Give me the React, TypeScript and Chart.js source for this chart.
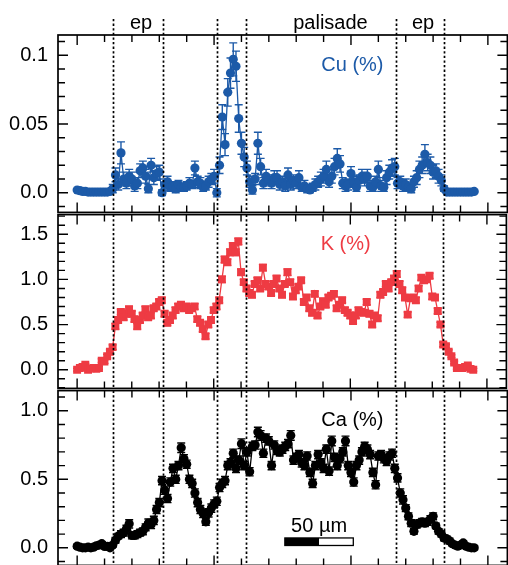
import React, { useEffect, useRef } from 'react';
import { Chart, registerables } from 'chart.js';

Chart.register(...registerables);

const FONT = "'Liberation Sans', Arial, Helvetica, sans-serif";

// scan positions (µm), one sample every 2 µm
const positionsUm: number[] = Array.from({ length: 146 }, (_, i) => i * 2);

// tissue boundaries (µm) drawn as dotted lines
const boundaryUm = [25.9, 62.8, 102.5, 123.5, 232.9, 267.7];
const regionLabels = ['ep', 'palisade', 'ep'];
const regionLabelUm = [46.7, 185, 252.7];

// x axis ticks (µm)
const xMajorTicksUm = [0, 100, 200, 300];
const xMinorStepUm = 20;

// Cu (%)
const cuValues = [
  0.002, 0.0015, 0.001, 0.001, 0.0005, 0.0005, 0.0005, 0.0005, 0.0005, 0.0005, 0.0005, 0.0005, 0.001,
  0.003, 0.013, 0.006, 0.029, 0.010, 0.007, 0.012, 0.010, 0.005, 0.007, 0.016, 0.018, 0.012, 0.003, 0.020, 0.011, 0.014, 0.015, 0.000,
  0.006, 0.008, 0.004, 0.005, 0.003, 0.006, 0.004, 0.004, 0.005, 0.007, 0.006, 0.018, 0.008, 0.007, 0.004, 0.005, 0.008, 0.010, 0.012,
  0.000, 0.020, 0.055, 0.035, 0.073, 0.087, 0.097, 0.092, 0.054, 0.036, 0.026, 0.018, 0.008,
  0.002, 0.010, 0.036, 0.019, 0.007, 0.012, 0.009, 0.007, 0.011, 0.011, 0.006, 0.008, 0.005, 0.013, 0.006, 0.009, 0.007,
  0.011, 0.004, 0.005, 0.003, 0.002, 0.004, 0.006, 0.008, 0.010, 0.012, 0.017, 0.008, 0.012, 0.019, 0.025, 0.021, 0.007, 0.005, 0.006, 0.014,
  0.008, 0.004, 0.009, 0.012, 0.010, 0.012, 0.005, 0.004, 0.008, 0.017, 0.005, 0.004, 0.011, 0.015, 0.018, 0.019, 0.007, 0.008, 0.005, 0.006,
  0.004, 0.003, 0.008, 0.011, 0.017, 0.020, 0.028, 0.022, 0.020, 0.015, 0.016, 0.012, 0.009, 0.003,
  0.0005, 0.0005, 0.0005, 0.0005, 0.0005, 0.0005, 0.0005, 0.0005, 0.0005, 0.0005, 0.001,
];
const cuErrors = [
  0.0008, 0.0008, 0.0008, 0.0008, 0.0008, 0.0008, 0.0008, 0.0008, 0.0008, 0.0008, 0.0008, 0.0008, 0.0008,
  0.003, 0.005, 0.004, 0.008, 0.005, 0.004, 0.005, 0.005, 0.004, 0.004, 0.005, 0.005, 0.005, 0.003, 0.005, 0.005, 0.005, 0.005, 0.002,
  0.004, 0.004, 0.003, 0.003, 0.003, 0.003, 0.003, 0.003, 0.003, 0.004, 0.003, 0.005, 0.004, 0.004, 0.003, 0.003, 0.004, 0.004, 0.005,
  0.003, 0.006, 0.009, 0.008, 0.010, 0.011, 0.012, 0.011, 0.010, 0.008, 0.007, 0.005, 0.004,
  0.003, 0.004, 0.008, 0.006, 0.004, 0.005, 0.004, 0.004, 0.005, 0.005, 0.004, 0.004, 0.004, 0.005, 0.004, 0.004, 0.004,
  0.005, 0.003, 0.004, 0.003, 0.002, 0.003, 0.004, 0.004, 0.005, 0.005, 0.006, 0.004, 0.005, 0.006, 0.007, 0.006, 0.004, 0.004, 0.004, 0.005,
  0.004, 0.003, 0.004, 0.005, 0.005, 0.005, 0.004, 0.003, 0.004, 0.006, 0.004, 0.003, 0.005, 0.005, 0.006, 0.006, 0.004, 0.004, 0.004, 0.004,
  0.003, 0.003, 0.004, 0.005, 0.006, 0.006, 0.007, 0.006, 0.006, 0.005, 0.005, 0.005, 0.004, 0.002,
  0.0008, 0.0008, 0.0008, 0.0008, 0.0008, 0.0008, 0.0008, 0.0008, 0.0008, 0.0008, 0.0008,
];

// K (%)
const kValues = [
  0.00, 0.02, 0.03, 0.055, 0.00, 0.015, 0.02, 0.01, 0.02, 0.10, 0.09, 0.15, 0.20, 0.25,
  0.48, 0.55, 0.64, 0.58, 0.62, 0.67, 0.62, 0.56, 0.48, 0.55, 0.60, 0.67, 0.58, 0.60, 0.68, 0.70, 0.75, 0.77,
  0.62, 0.52, 0.55, 0.60, 0.66, 0.70, 0.72, 0.68, 0.70, 0.66, 0.68, 0.70, 0.56, 0.52, 0.45, 0.37, 0.50, 0.55, 0.66, 0.70, 0.77,
  1.00, 1.22, 1.19, 1.30, 1.37, 1.30, 1.42, 1.08, 0.97, 0.90, 0.85, 0.83, 0.95, 0.99, 0.90,
  1.13, 0.95, 0.92, 0.85, 0.95, 1.01, 0.90, 0.83, 0.95, 1.08, 0.97, 0.81, 0.88, 0.92, 0.99, 0.75, 0.80, 0.68, 0.63, 0.84, 0.60, 0.70, 0.76,
  0.72, 0.80, 0.82, 0.84, 0.68, 0.72, 0.77, 0.66, 0.63, 0.60, 0.54, 0.60, 0.66, 0.64, 0.63, 0.75, 0.62, 0.50, 0.60, 0.57,
  0.83, 0.86, 0.95, 0.90, 0.97, 1.01, 1.06, 0.95, 0.88, 0.80, 0.61, 0.79, 0.80, 0.77, 0.90, 1.02, 0.99, 1.00, 1.04, 0.81,
  0.80, 0.65, 0.50, 0.28, 0.26, 0.20, 0.15, 0.08, 0.02, 0.02, 0.02, 0.03, 0.047, 0.01, 0.00,
];
const kErrors = [
  0.015, 0.015, 0.015, 0.015, 0.015, 0.015, 0.015, 0.015, 0.015, 0.02, 0.02, 0.02, 0.02, 0.025,
  0.03, 0.03, 0.03, 0.03, 0.03, 0.03, 0.03, 0.03, 0.03, 0.03, 0.03, 0.03, 0.03, 0.03, 0.03, 0.03, 0.03, 0.03,
  0.03, 0.03, 0.03, 0.03, 0.03, 0.03, 0.03, 0.03, 0.03, 0.03, 0.03, 0.03, 0.03, 0.03, 0.03, 0.03, 0.03, 0.03, 0.03, 0.03, 0.03,
  0.035, 0.035, 0.035, 0.035, 0.035, 0.035, 0.035, 0.035, 0.03, 0.03, 0.03, 0.03, 0.03, 0.03, 0.03,
  0.035, 0.03, 0.03, 0.03, 0.03, 0.03, 0.03, 0.03, 0.03, 0.035, 0.03, 0.03, 0.03, 0.03, 0.03, 0.03, 0.03, 0.03, 0.03, 0.03, 0.03, 0.03, 0.03,
  0.03, 0.03, 0.03, 0.03, 0.03, 0.03, 0.03, 0.03, 0.03, 0.03, 0.03, 0.03, 0.03, 0.03, 0.03, 0.03, 0.03, 0.03, 0.03, 0.03,
  0.03, 0.03, 0.03, 0.03, 0.03, 0.03, 0.035, 0.03, 0.03, 0.03, 0.03, 0.03, 0.03, 0.03, 0.03, 0.03, 0.03, 0.03, 0.03, 0.03,
  0.03, 0.03, 0.025, 0.025, 0.02, 0.02, 0.015, 0.015, 0.015, 0.015, 0.015, 0.015, 0.015, 0.015, 0.015,
];

// Ca (%)
const caValues = [
  0.012, 0.005, 0.0, 0.0, 0.005, 0.0, 0.005, 0.015, 0.02, 0.03, 0.01, 0.01, 0.0, 0.02,
  0.055, 0.085, 0.10, 0.11, 0.14, 0.175, 0.09, 0.09, 0.10, 0.11, 0.12, 0.15, 0.18, 0.17, 0.20, 0.28, 0.33, 0.49,
  0.42, 0.36, 0.48, 0.58, 0.50, 0.60, 0.73, 0.65, 0.61, 0.50, 0.47, 0.40, 0.33, 0.28, 0.25, 0.19, 0.255, 0.29, 0.32, 0.34,
  0.44, 0.47, 0.49, 0.60, 0.62, 0.69, 0.58, 0.64, 0.76, 0.60, 0.70, 0.555, 0.74, 0.75, 0.845, 0.82, 0.69, 0.80, 0.78, 0.60,
  0.75, 0.71, 0.70, 0.72, 0.74, 0.76, 0.82, 0.64, 0.66, 0.68, 0.62, 0.60, 0.67, 0.55, 0.47, 0.60, 0.68, 0.62, 0.58, 0.72,
  0.56, 0.78, 0.66, 0.60, 0.65, 0.70, 0.78, 0.60, 0.55, 0.48, 0.60, 0.64, 0.70, 0.74, 0.72, 0.68, 0.55, 0.46, 0.67, 0.68,
  0.65, 0.63, 0.67, 0.69, 0.58, 0.51, 0.40, 0.35, 0.29, 0.23, 0.18, 0.12, 0.17, 0.18, 0.19, 0.18, 0.19, 0.21, 0.23, 0.16,
  0.12, 0.10, 0.072, 0.065, 0.05, 0.03, 0.02, 0.012, 0.02, 0.036, 0.012, 0.005, 0.0, 0.0,
];
const caErrors = [
  0.015, 0.015, 0.015, 0.015, 0.015, 0.015, 0.015, 0.015, 0.015, 0.015, 0.015, 0.015, 0.015, 0.015,
  0.02, 0.02, 0.025, 0.025, 0.025, 0.03, 0.025, 0.025, 0.025, 0.025, 0.025, 0.025, 0.03, 0.03, 0.03, 0.03, 0.03, 0.03,
  0.03, 0.03, 0.03, 0.03, 0.03, 0.03, 0.035, 0.03, 0.03, 0.03, 0.03, 0.03, 0.03, 0.03, 0.03, 0.025, 0.03, 0.03, 0.03, 0.03,
  0.03, 0.03, 0.03, 0.03, 0.03, 0.03, 0.03, 0.03, 0.035, 0.03, 0.03, 0.03, 0.03, 0.03, 0.035, 0.035, 0.03, 0.03, 0.03, 0.03,
  0.03, 0.03, 0.03, 0.03, 0.03, 0.03, 0.035, 0.03, 0.03, 0.03, 0.03, 0.03, 0.03, 0.03, 0.03, 0.03, 0.03, 0.03, 0.03, 0.03,
  0.03, 0.035, 0.03, 0.03, 0.03, 0.03, 0.035, 0.03, 0.03, 0.03, 0.03, 0.03, 0.03, 0.03, 0.03, 0.03, 0.03, 0.03, 0.03, 0.03,
  0.03, 0.03, 0.03, 0.03, 0.03, 0.03, 0.03, 0.03, 0.025, 0.025, 0.025, 0.02, 0.025, 0.025, 0.025, 0.025, 0.025, 0.025, 0.025, 0.02,
  0.02, 0.02, 0.02, 0.02, 0.02, 0.015, 0.015, 0.015, 0.015, 0.015, 0.015, 0.015, 0.015, 0.015,
];

// y axis ticks
const cuTickValues = [0, 0.05, 0.1];
const cuTickLabels = ['0.0', '0.05', '0.1'];
const kTickValues = [0, 0.5, 1.0, 1.5];
const kTickLabels = ['0.0', '0.5', '1.0', '1.5'];
const caTickValues = [0, 0.5, 1.0];
const caTickLabels = ['0.0', '0.5', '1.0'];

// scale bar
const scaleBarStartUm = 151.7;
const scaleBarLengthUm = 50;
const scaleBarLabel = '50 µm';

type PanelSpec = {
  key: string;
  title: string;
  color: string;
  values: number[];
  errors: number[];
  yMin: number;
  yMax: number;
  majorTicks: number[];
  tickLabels: string[];
  minorStep: number;
  pointStyle: 'circle' | 'rect';
  pointRadius: number;
  areaTop: number;
  areaBottom: number;
  isTop: boolean;
  isBottom: boolean;
};

const X_MIN = -14;
const X_MAX = -14 + 453 / 1.38;
const CANVAS_W = 512;
const AREA_RIGHT = 511;
const AREA_LEFT = 58;
const FONT_SIZE = 20;

const panels: PanelSpec[] = [
  {
    key: 'cu', title: 'Cu (%)', color: '#1c5aa8', values: cuValues, errors: cuErrors,
    yMin: -0.01428, yMax: 0.11471, majorTicks: cuTickValues, tickLabels: cuTickLabels, minorStep: 0.01,
    pointStyle: 'circle', pointRadius: 4.6, areaTop: 35, areaBottom: 213, isTop: true, isBottom: false,
  },
  {
    key: 'k', title: 'K (%)', color: '#ee3b43', values: kValues, errors: kErrors,
    yMin: -0.2065, yMax: 1.7174, majorTicks: kTickValues, tickLabels: kTickLabels, minorStep: 0.1,
    pointStyle: 'rect', pointRadius: 5.6, areaTop: 213, areaBottom: 390, isTop: false, isBottom: false,
  },
  {
    key: 'ca', title: 'Ca (%)', color: '#000000', values: caValues, errors: caErrors,
    yMin: -0.1283, yMax: 1.1471, majorTicks: caTickValues, tickLabels: caTickLabels, minorStep: 0.1,
    pointStyle: 'circle', pointRadius: 4.6, areaTop: 390, areaBottom: 566, isTop: false, isBottom: true,
  },
];

function canvasBox(p: PanelSpec) {
  const top = p.isTop ? 0 : p.areaTop - 4;
  const height = p.areaBottom + 4 - top;
  return { top, height, padTop: p.areaTop - top };
}

function makeDecor(spec: PanelSpec) {
  return {
    id: 'decor_' + spec.key,
    beforeDatasetsDraw(chart: any) {
      const ctx = chart.ctx;
      const xs = chart.scales.x;
      const ys = chart.scales.y;
      const a = chart.chartArea;
      ctx.save();
      ctx.beginPath();
      ctx.rect(a.left, a.top, a.right - a.left, a.bottom - a.top);
      ctx.clip();
      ctx.strokeStyle = spec.color;
      ctx.lineWidth = 1.4;
      ctx.beginPath();
      for (let i = 0; i < spec.values.length; i++) {
        const v = spec.values[i];
        const e = spec.errors[i];
        const px = xs.getPixelForValue(positionsUm[i]);
        const y1 = ys.getPixelForValue(v - e);
        const y2 = ys.getPixelForValue(v + e);
        ctx.moveTo(px, y1); ctx.lineTo(px, y2);
        ctx.moveTo(px - 4, y1); ctx.lineTo(px + 4, y1);
        ctx.moveTo(px - 4, y2); ctx.lineTo(px + 4, y2);
      }
      ctx.stroke();
      ctx.restore();
    },
    afterDatasetsDraw(chart: any) {
      const ctx = chart.ctx;
      const xs = chart.scales.x;
      const a = chart.chartArea;
      ctx.save();
      ctx.strokeStyle = '#000';
      ctx.lineWidth = 1.7;
      ctx.setLineDash([2.3, 2.3]);
      const yStart = spec.isTop ? 19 : a.top;
      for (const um of boundaryUm) {
        const px = Math.round(xs.getPixelForValue(um)) + 0.5;
        ctx.beginPath();
        ctx.moveTo(px, yStart);
        ctx.lineTo(px, a.bottom);
        ctx.stroke();
      }
      ctx.restore();
    },
    afterDraw(chart: any) {
      const ctx = chart.ctx;
      const xs = chart.scales.x;
      const ys = chart.scales.y;
      const a = chart.chartArea;
      ctx.save();
      // x ticks (top and bottom, inward)
      ctx.strokeStyle = '#000';
      ctx.lineWidth = 1.4;
      ctx.beginPath();
      const k0 = Math.ceil(X_MIN / xMinorStepUm);
      const k1 = Math.floor(X_MAX / xMinorStepUm);
      for (let k = k0; k <= k1; k++) {
        const v = k * xMinorStepUm;
        const major = xMajorTicksUm.includes(v);
        const len = major ? 10 : 7;
        const px = xs.getPixelForValue(v);
        ctx.moveTo(px, a.top); ctx.lineTo(px, a.top + len);
        ctx.moveTo(px, a.bottom); ctx.lineTo(px, a.bottom - len);
      }
      // y ticks (left and right, inward)
      const j0 = Math.ceil(spec.yMin / spec.minorStep - 1e-9);
      const j1 = Math.floor(spec.yMax / spec.minorStep + 1e-9);
      for (let j = j0; j <= j1; j++) {
        const v = j * spec.minorStep;
        const major = spec.majorTicks.some((m) => Math.abs(m - v) < spec.minorStep / 10);
        const len = major ? 10 : 7;
        const py = ys.getPixelForValue(v);
        ctx.moveTo(a.left, py); ctx.lineTo(a.left + len, py);
        ctx.moveTo(a.right, py); ctx.lineTo(a.right - len, py);
      }
      ctx.stroke();
      // frame
      ctx.lineWidth = 1.7;
      ctx.strokeRect(a.left, a.top, a.right - a.left, a.bottom - a.top);

      // panel title
      ctx.font = `${FONT_SIZE}px ${FONT}`;
      ctx.fillStyle = spec.color;
      ctx.textAlign = 'left';
      ctx.textBaseline = 'alphabetic';
      ctx.fillText(spec.title, xs.getPixelForValue(178.3), a.top + 35.5);

      // region labels above the top panel
      if (spec.isTop) {
        ctx.fillStyle = '#000';
        ctx.textAlign = 'center';
        regionLabels.forEach((lab, i) => {
          ctx.fillText(lab, xs.getPixelForValue(regionLabelUm[i]), 28.5);
        });
      }

      // scale bar in the bottom panel
      if (spec.isBottom) {
        const x0 = xs.getPixelForValue(scaleBarStartUm);
        const xm = xs.getPixelForValue(scaleBarStartUm + scaleBarLengthUm / 2);
        const x1 = xs.getPixelForValue(scaleBarStartUm + scaleBarLengthUm);
        const yT = ys.getPixelForValue(0.072);
        const yB = ys.getPixelForValue(0.017);
        ctx.fillStyle = '#000';
        ctx.fillRect(x0, yT, xm - x0, yB - yT);
        ctx.fillStyle = '#fff';
        ctx.fillRect(xm, yT, x1 - xm, yB - yT);
        ctx.strokeStyle = '#000';
        ctx.lineWidth = 1.3;
        ctx.strokeRect(x0, yT, x1 - x0, yB - yT);
        ctx.fillStyle = '#000';
        ctx.textAlign = 'center';
        ctx.fillText(scaleBarLabel, (x0 + x1) / 2, yT - 6);
      }
      ctx.restore();
    },
  };
}

function Panel({ spec }: { spec: PanelSpec }) {
  const ref = useRef<HTMLCanvasElement | null>(null);
  const box = canvasBox(spec);
  useEffect(() => {
    if (!ref.current) return;
    const data = positionsUm.map((x, i) => ({ x, y: spec.values[i] }));
    const chart = new Chart(ref.current, {
      type: 'line',
      data: {
        datasets: [
          {
            data,
            borderColor: spec.color,
            borderWidth: 1.3,
            backgroundColor: spec.color,
            pointBackgroundColor: spec.color,
            pointBorderColor: spec.color,
            pointBorderWidth: 0,
            pointRadius: spec.pointRadius,
            pointStyle: spec.pointStyle,
            tension: 0,
            fill: false,
          },
        ],
      },
      options: {
        animation: false,
        responsive: false,
        devicePixelRatio: 1,
        events: [],
        layout: { padding: { top: box.padTop, bottom: 4, left: 0, right: CANVAS_W - AREA_RIGHT } },
        plugins: { legend: { display: false }, tooltip: { enabled: false } },
        scales: {
          x: { type: 'linear', min: X_MIN, max: X_MAX, display: false },
          y: {
            type: 'linear',
            position: 'left',
            min: spec.yMin,
            max: spec.yMax,
            grid: { display: false, drawTicks: false, tickLength: 0 },
            border: { display: false },
            ticks: {
              padding: 10,
              color: '#000',
              font: { family: FONT, size: FONT_SIZE },
              callback: (value: any) => {
                const i = spec.majorTicks.findIndex((m) => Math.abs(m - Number(value)) < 1e-9);
                return i >= 0 ? spec.tickLabels[i] : '';
              },
            },
            afterBuildTicks: (scale: any) => {
              scale.ticks = spec.majorTicks.map((v) => ({ value: v }));
            },
            afterFit: (scale: any) => {
              scale.width = AREA_LEFT;
              scale.paddingTop = 0;
              scale.paddingBottom = 0;
            },
          },
        },
      },
      plugins: [makeDecor(spec)],
    } as any);
    return () => chart.destroy();
  }, [spec]);
  return (
    <canvas
      ref={ref}
      width={CANVAS_W}
      height={box.height}
      style={{ position: 'absolute', left: 0, top: box.top, width: CANVAS_W, height: box.height }}
    />
  );
}

export default function App() {
  useEffect(() => {
    document.body.style.margin = '0';
    document.body.style.overflow = 'hidden';
  }, []);
  return (
    <div style={{ position: 'relative', width: 508, height: 565, overflow: 'hidden', background: '#fff' }}>
      {panels.map((p) => (
        <Panel key={p.key} spec={p} />
      ))}
    </div>
  );
}
